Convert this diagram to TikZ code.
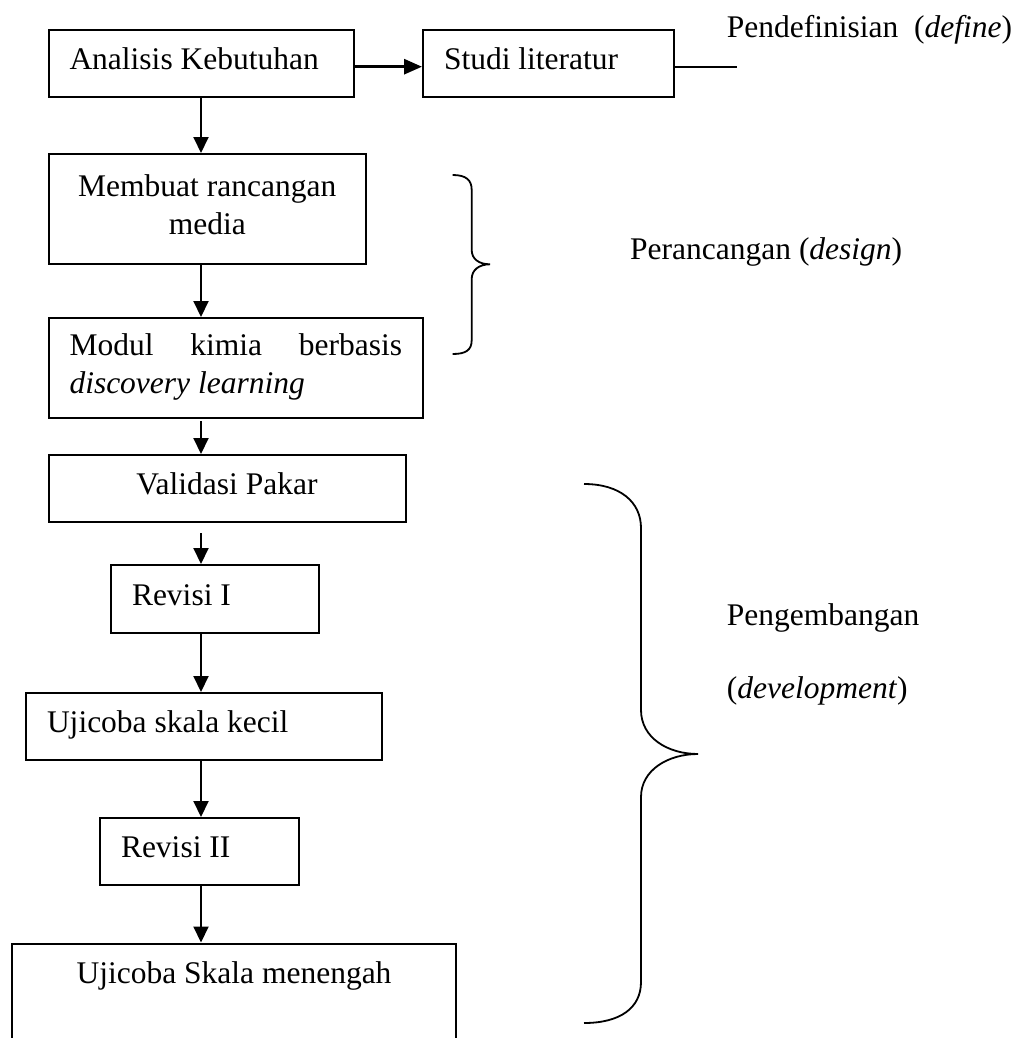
\documentclass[tikz,border=0pt]{standalone}
\usepackage{fontspec}
\setmainfont{Liberation Serif}
\usetikzlibrary{arrows.meta}
\tikzset{
  box/.style={draw, line width=2pt, anchor=north west, inner xsep=21pt, inner ysep=0pt,
    text height=22pt, text depth=10pt, align=flush left},
  lbl/.style={anchor=base west, inner sep=0pt},
  arr/.style={-{Triangle[length=16pt,width=15pt]}, line width=2pt},
  harr/.style={-{Triangle[length=18pt,width=15pt]}, line width=3pt},
  plain/.style={line width=2pt},
  brace/.style={line width=1.8pt},
}
\begin{document}
\begin{tikzpicture}[x=1pt,y=-1pt, every node/.style={font=\fontsize{31.5}{38}\selectfont}]
\useasboundingbox (0,0) rectangle (1018,1038);
\clip (0,0) rectangle (1018,1038);

% boxes
\node[box, text width=263.5pt, minimum height=67.3pt] (ana) at (47.5,28.7) {Analisis Kebutuhan};
\node[box, text width=209pt, minimum height=67.3pt] (stu) at (422,28.7) {Studi literatur};
\node[box, text width=275.5pt, minimum height=110pt, align=flush center, text depth=48pt] (mem) at (47.5,153) {Membuat rancangan\\media};
\node[box, text width=332.5pt, minimum height=100pt, text depth=48pt] (mod) at (47.5,317) {\makebox[332.5pt][l]{Modul\hfill kimia\hfill berbasis}\\\textit{discovery learning}};
\node[box, text width=315pt, minimum height=67pt, align=flush center] (val) at (47.5,454) {Validasi Pakar};
\node[box, text width=166pt, minimum height=68pt] (rev1) at (110,564) {Revisi I};
\node[box, text width=314pt, minimum height=67pt] (uk) at (25,692) {Ujicoba skala kecil};
\node[box, text width=157pt, minimum height=66.7pt] (rev2) at (99,817) {Revisi II};
\node[box, text width=402pt, align=flush center, inner ysep=17.5pt, text depth=120pt] (um) at (11,942.5) {Ujicoba Skala menengah};

% labels
\node[lbl] (def) at (726.7,37.3) {Pendefinisian\ \ (\textit{define})};
\node[lbl] (des) at (630,259.3) {Perancangan (\textit{design})};
\node[lbl] (dev1) at (726.7,625.7) {Pengembangan};
\node[lbl] (dev2) at (726.7,698.3) {(\textit{development})};

% connectors
\coordinate (ax) at (201,0);
\coordinate (hy) at (0,66.7);
\coordinate (defend) at (737.3,66.7);
\draw[harr] (ana.east |- hy) -- (stu.west |- hy);
\draw[plain] (stu.east |- hy) -- (defend);
\draw[arr] (ana.south -| ax) -- (mem.north -| ax);
\draw[arr] (mem.south -| ax) -- (mod.north -| ax);
\draw[arr, shorten <=2pt] (mod.south -| ax) -- (val.north -| ax);
\draw[arr, shorten <=10pt] (val.south -| ax) -- (rev1.north -| ax);
\draw[arr] (rev1.south -| ax) -- (uk.north -| ax);
\draw[arr] (uk.south -| ax) -- (rev2.north -| ax);
\draw[arr] (rev2.south -| ax) -- (um.north -| ax);

% braces
\draw[brace] (452.7,175) .. controls (466,175) and (471.7,180) .. (471.7,190)
  -- (471.7,250) .. controls (471.7,259) and (479,264.3) .. (490,264.3)
  .. controls (479,264.3) and (471.7,270) .. (471.7,279)
  -- (471.7,340) .. controls (471.7,350) and (466,354) .. (452.7,354);
\draw[brace] (584,484) .. controls (620,484) and (641,502) .. (641,528)
  -- (641,710) .. controls (641,738) and (668,754) .. (698,754)
  .. controls (668,754) and (641,770) .. (641,797)
  -- (641,982) .. controls (641,1008) and (620,1023) .. (584,1023);
\end{tikzpicture}
\end{document}
